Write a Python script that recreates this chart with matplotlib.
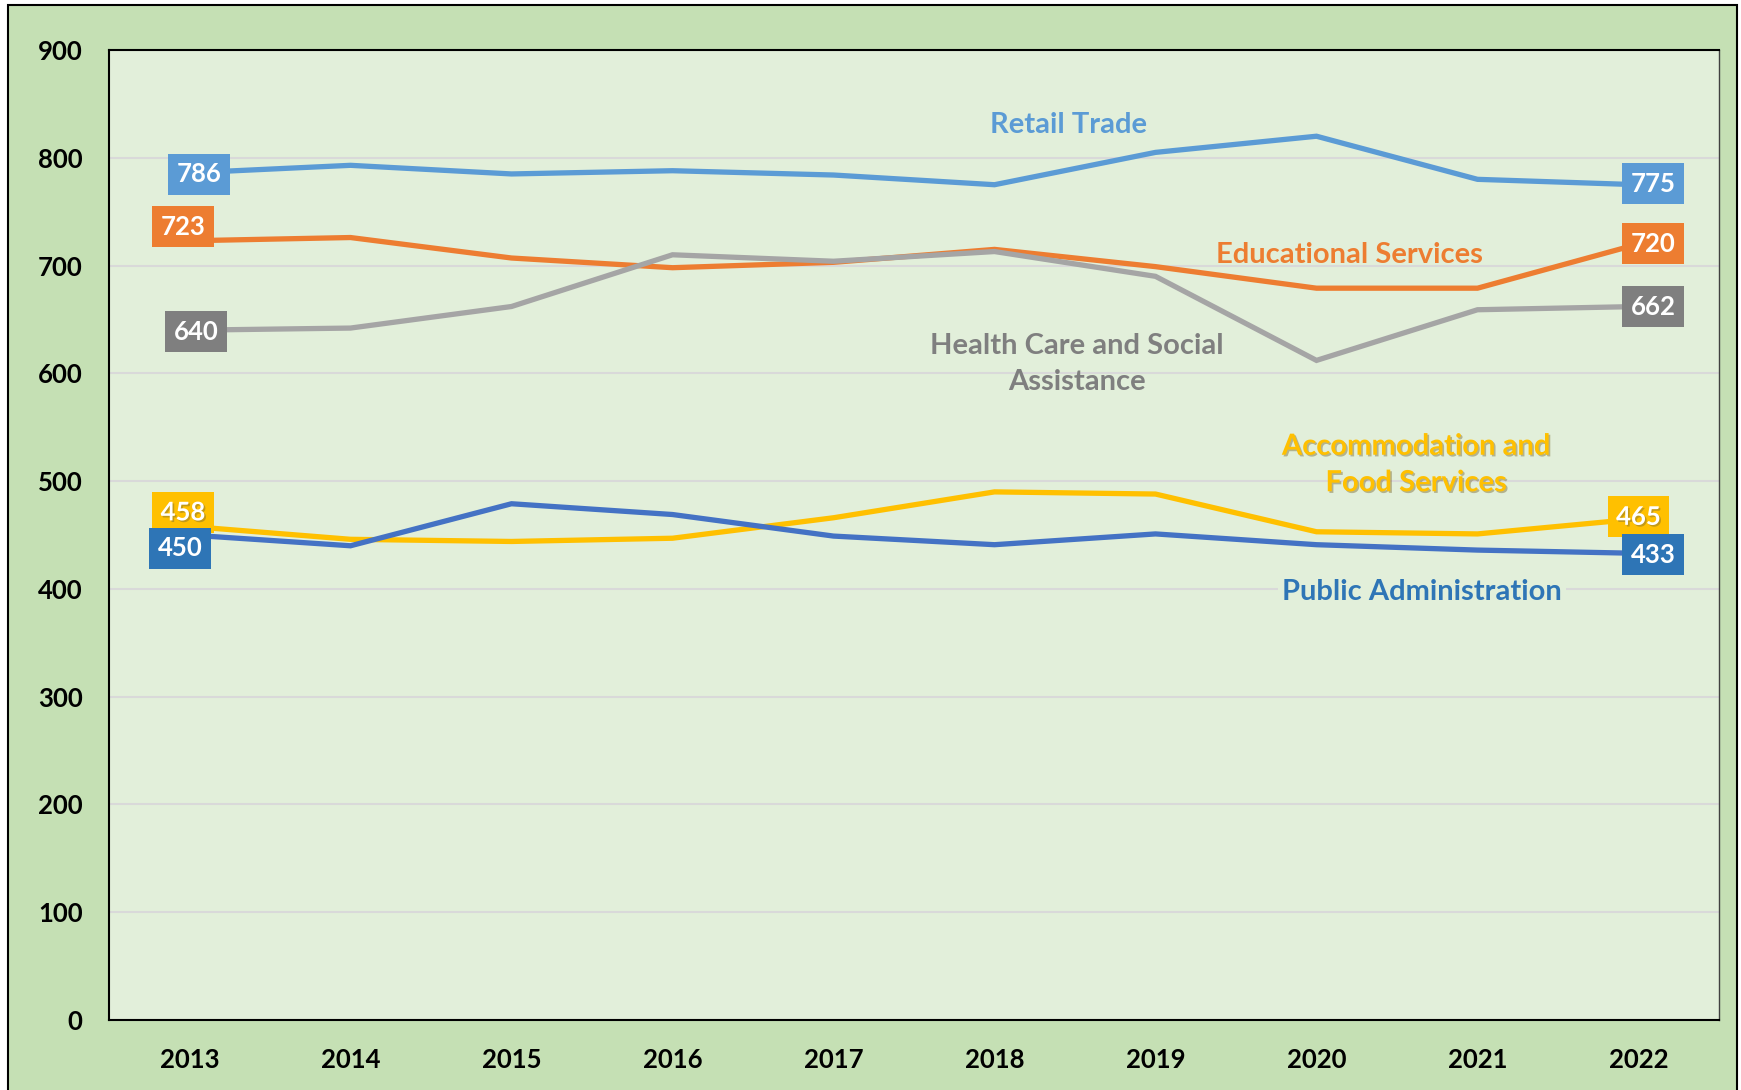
import matplotlib
matplotlib.use("Agg")
import matplotlib.pyplot as plt
import matplotlib.patheffects as pe
from matplotlib.patches import Rectangle

plt.rcParams['font.family'] = ['Lato', 'DejaVu Sans']
plt.rcParams['font.weight'] = 'bold'

years = ["2013", "2014", "2015", "2016", "2017", "2018", "2019", "2020", "2021", "2022"]
retail = [786, 793, 785, 788, 784, 775, 805, 820, 780, 775]
educational = [723, 726, 707, 698, 703, 715, 699, 679, 679, 720]
health = [640, 642, 662, 710, 704, 713, 690, 612, 659, 662]
accommodation = [458, 446, 444, 447, 466, 490, 488, 453, 451, 465]
public_admin = [450, 440, 479, 469, 449, 441, 451, 441, 436, 433]
y_ticks = [0, 100, 200, 300, 400, 500, 600, 700, 800, 900]

W, H = 1741, 1090
fig = plt.figure(figsize=(W / 100, H / 100), dpi=100)
fig.patch.set_facecolor('white')
fig.patches.append(Rectangle((8 / W, -0.02), (1737 - 8) / W, 1 - 5 / H + 0.02,
                             transform=fig.transFigure, facecolor='#C5E0B4',
                             edgecolor='black', linewidth=1.5, zorder=-10))

ax = fig.add_axes([109 / W, 70 / H, (1719 - 109) / W, (1020 - 50) / H])
ax.set_zorder(5)
ax.set_facecolor('#E2EFDA')
x = list(range(len(years)))

series = [
    (retail, '#5B9BD5', '#5B9BD5', False),
    (educational, '#ED7D31', '#ED7D31', False),
    (health, '#A5A5A5', '#7F7F7F', False),
    (accommodation, '#FFC000', '#FFC000', True),
    (public_admin, '#4472C4', '#2E75B6', False),
]
for vals, lc, bc, sh in series:
    ax.plot(x, vals, color=lc, linewidth=3.8, solid_joinstyle='miter', zorder=3)

ax.set_xlim(-0.5, len(years) - 0.5)
ax.set_ylim(0, 900)
ax.set_yticks(y_ticks)
ax.set_xticks(x)
ax.set_xticklabels(years)
ax.grid(axis='y', color='#D9D9D9', linewidth=1.5, zorder=1)
ax.set_axisbelow(True)
ax.tick_params(axis='both', length=0, labelsize=18.5)
ax.tick_params(axis='y', pad=19)
ax.tick_params(axis='x', pad=20)
for lab in ax.get_xticklabels() + ax.get_yticklabels():
    lab.set_fontweight('bold')
for s in ax.spines.values():
    s.set_color('black')
    s.set_linewidth(1.5)
ax.spines['right'].set_color('#404040')
ax.spines['right'].set_linewidth(1.0)

shadow = [pe.SimplePatchShadow(offset=(1.2, -1.2), shadow_rgbFace='#7a6a30', alpha=0.45), pe.Normal()]

# data label offsets in pixels (dx, dy) for first and last points
offsets = [
    ((9.5, -1.5), (14.5, 1)),
    ((-6.5, 14), (14.5, 0.5)),
    ((6.5, -1.5), (14.5, 0)),
    ((-6.5, 14), (0, 2)),
    ((-9.5, -13.5), (14.5, -1.5)),
]
for (vals, lc, bc, sh), (o1, o2) in zip(series, offsets):
    for idx, o in ((0, o1), (len(vals) - 1, o2)):
        t = ax.annotate(str(vals[idx]), (x[idx], vals[idx]),
                        xytext=(o[0] * 0.72, o[1] * 0.72), textcoords='offset points',
                        ha='center', va='center', color='white', fontsize=18.5,
                        fontweight='bold', zorder=5,
                        bbox=dict(boxstyle='square,pad=0.33', fc=bc, ec='none'))
        if sh:
            t.set_path_effects(shadow)

def px(xp, yp):
    return ((xp - 109) / (1719 - 109) * 10 - 0.5, (1020 - yp) / (1020 - 50) * 900)

names = [
    ("Retail Trade", 1068, 125, '#5B9BD5', False),
    ("Educational Services", 1349, 255, '#ED7D31', False),
    ("Health Care and Social\nAssistance", 1077, 364, '#7F7F7F', False),
    ("Accommodation and\nFood Services", 1416, 465, '#FFC000', True),
    ("Public Administration", 1422, 592, '#2E75B6', False),
]
for txt, xp, yp, c, sh in names:
    xx, yy = px(xp, yp)
    t = ax.text(xx, yy, txt, ha='center', va='center', color=c, fontsize=21,
                fontweight='bold', linespacing=1.5, zorder=4,
                bbox=dict(boxstyle='square,pad=0.15', fc='#E2EFDA', ec='none') if txt.startswith('Public') else None)
    if sh:
        t.set_path_effects(shadow)

fig.savefig('out.png', dpi=100, facecolor=fig.get_facecolor())
